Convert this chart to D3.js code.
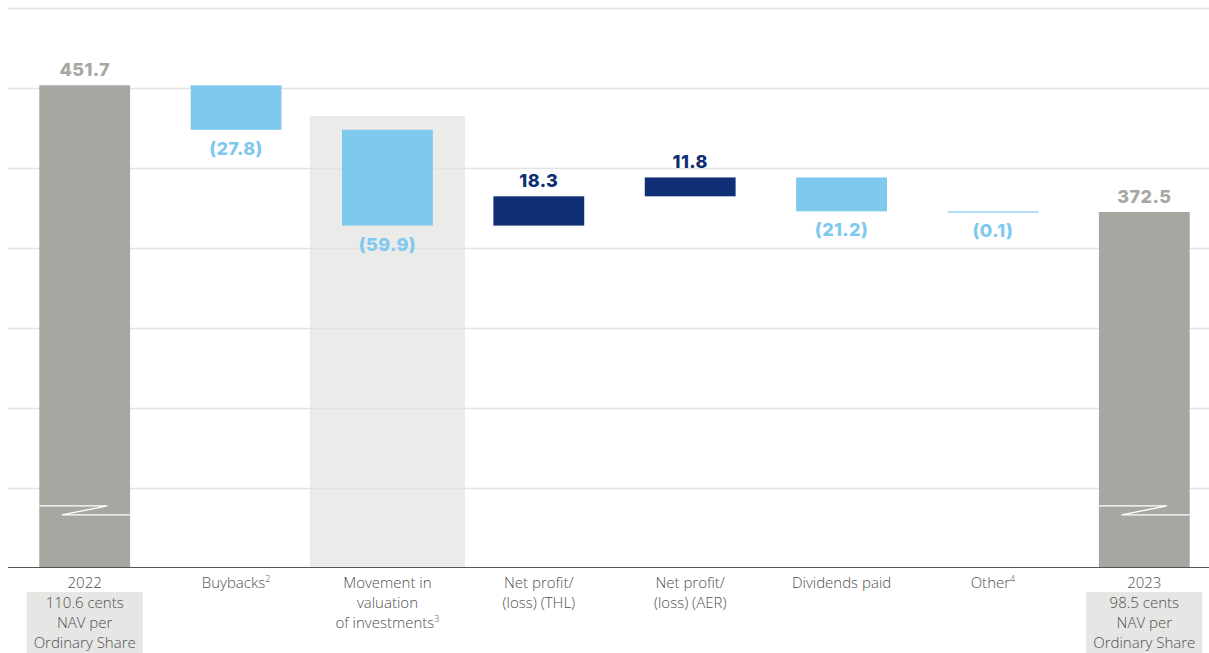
<!DOCTYPE html>
<html>
<head>
<meta charset="utf-8">
<script src="https://cdn.jsdelivr.net/npm/d3@7/dist/d3.min.js"></script>
<style>
  html, body { margin: 0; padding: 0; background: #ffffff; }
  svg { display: block; }
  text { font-family: "Open Sans", Lato, sans-serif; font-weight: 300; }
  text.value { font-family: Inter, "Open Sans", sans-serif; }
</style>
</head>
<body>
<svg id="chart" width="1209" height="653"></svg>
<script>
// NAV bridge, 2022 to 2023 (US$m)
const categories = ["2022", "Buybacks", "Movement", "THL", "AER", "Dividends", "Other", "2023"];
const values = [451.7, -27.8, -59.9, 18.3, 11.8, -21.2, -0.1, 372.5];
const kinds = ["total", "change", "change", "change", "change", "change", "change", "total"];
const labelLines = [
  [["2022"]],
  [["Buybacks", "2"]],
  [["Movement in"], ["valuation"], ["of investments", "3"]],
  [["Net profit/"], ["(loss) (THL)"]],
  [["Net profit/"], ["(loss) (AER)"]],
  [["Dividends paid"]],
  [["Other", "4"]],
  [["2023"]]
];
const navNotes = {
  "2022": ["110.6 cents", "NAV per", "Ordinary Share"],
  "2023": ["98.5 cents", "NAV per", "Ordinary Share"]
};
const highlighted = "Movement";
const axisBreakValue = 186;

const W = 1209, H = 653;
const colors = { total: "#a7a7a2", down: "#7fc9ef", up: "#0f2e75", text: "#4f5052", grid: "#e3e3e3", shade: "#ebebe9" };

const svg = d3.select("#chart");

const x = d3.scaleBand().domain(categories).range([9, 1220]).paddingInner(0.4).paddingOuter(0.2);
const y = d3.scaleLinear().domain([150, 500]).range([568, 8]);

// Running totals for the waterfall
let running = 0;
const bars = categories.map((c, i) => {
  const v = values[i];
  let start, end;
  if (kinds[i] === "total") { start = y.domain()[0]; end = v; running = v; }
  else { start = running; end = running + v; running = end; }
  return { cat: c, value: v, kind: kinds[i], start, end };
});

const fmt = v => v < 0 ? "(" + d3.format(".1f")(-v) + ")" : d3.format(".1f")(v);

// Shaded column behind the valuation movement
const step = x.step();
svg.append("rect")
  .attr("x", x(highlighted) + x.bandwidth() / 2 - step / 2 - 2)
  .attr("y", 116)
  .attr("width", step + 4)
  .attr("height", y(150) - 116)
  .attr("fill", colors.shade);

// Horizontal gridlines
svg.append("g").selectAll("line")
  .data(y.ticks(7).filter(t => t > y.domain()[0]))
  .join("line")
  .attr("x1", 8).attr("x2", W)
  .attr("y1", d => Math.round(y(d)) + 0.5).attr("y2", d => Math.round(y(d)) + 0.5)
  .attr("stroke", colors.grid).attr("stroke-width", 1.5);

// Bars
const barColor = d => d.kind === "total" ? colors.total : (d.value < 0 ? colors.down : colors.up);
svg.append("g").selectAll("rect")
  .data(bars)
  .join("rect")
  .attr("x", d => x(d.cat))
  .attr("width", x.bandwidth())
  .attr("y", d => y(Math.max(d.start, d.end)))
  .attr("height", d => Math.max(1.2, Math.abs(y(d.start) - y(d.end))))
  .attr("fill", barColor);

// Axis break marks on the total bars
const by = y(axisBreakValue);
bars.filter(d => d.kind === "total").forEach(d => {
  const x0 = x(d.cat), bw = x.bandwidth();
  svg.append("path")
    .attr("d", `M${x0},${by - 4.5} L${x0 + bw * 0.75},${by - 4.5} L${x0 + bw * 0.25},${by + 4.5} L${x0 + bw},${by + 4.5}`)
    .attr("fill", "none")
    .attr("stroke", "#ffffff")
    .attr("stroke-width", 1.3);
});

// Value labels
svg.append("g").selectAll("text")
  .data(bars)
  .join("text")
  .attr("class", "value")
  .attr("x", d => x(d.cat) + x.bandwidth() / 2)
  .attr("y", d => d.value < 0 ? y(Math.min(d.start, d.end)) + 25 : y(Math.max(d.start, d.end)) - 9)
  .attr("text-anchor", "middle")
  .attr("font-size", 18)
  .style("font-weight", 800)
  .attr("letter-spacing", 0.4)
  .attr("fill", barColor)
  .text(d => fmt(d.value));

// Baseline
svg.append("line")
  .attr("x1", 8).attr("x2", W)
  .attr("y1", y(150) - 0.5).attr("y2", y(150) - 0.5)
  .attr("stroke", "#555555").attr("stroke-width", 1.2);

// NAV per share note boxes
Object.keys(navNotes).forEach(c => {
  const cx = x(c) + x.bandwidth() / 2;
  svg.append("rect")
    .attr("x", cx - 58).attr("y", 592)
    .attr("width", 116).attr("height", 62)
    .attr("fill", "#e6e6e5");
  navNotes[c].forEach((line, j) => {
    svg.append("text")
      .attr("x", cx).attr("y", 608 + j * 20)
      .attr("text-anchor", "middle")
      .attr("font-size", 15)
      .attr("fill", colors.text)
      .text(line);
  });
});

// Category labels
categories.forEach((c, i) => {
  const cx = x(c) + x.bandwidth() / 2;
  labelLines[i].forEach((parts, j) => {
    const t = svg.append("text")
      .attr("x", cx).attr("y", 588 + j * 20)
      .attr("text-anchor", "middle")
      .attr("font-size", 15)
      .attr("fill", colors.text);
    t.append("tspan").text(parts[0]);
    if (parts[1]) {
      t.append("tspan").attr("font-size", 9).attr("dy", -6).text(parts[1]);
    }
  });
});
</script>
</body>
</html>
